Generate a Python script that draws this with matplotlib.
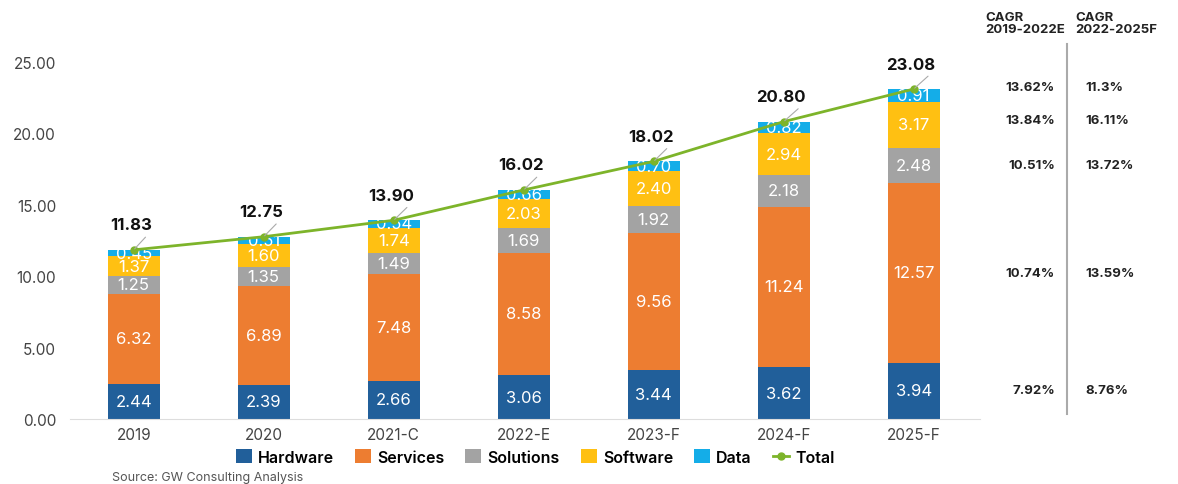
import numpy as np
import matplotlib
matplotlib.use("Agg")
import matplotlib.pyplot as plt

plt.rcParams["font.family"] = ["Inter", "DejaVu Sans"]

# ── Data ──────────────────────────────────────────────────────────────────────
years = ["2019", "2020", "2021-C", "2022-E", "2023-F", "2024-F", "2025-F"]
hardware  = [2.44, 2.39, 2.66, 3.06, 3.44, 3.62, 3.94]
services  = [6.32, 6.89, 7.48, 8.58, 9.56, 11.24, 12.57]
solutions = [1.25, 1.35, 1.49, 1.69, 1.92, 2.18, 2.48]
software  = [1.37, 1.60, 1.74, 2.03, 2.40, 2.94, 3.17]
data      = [0.45, 0.51, 0.54, 0.66, 0.70, 0.82, 0.91]
total     = [11.83, 12.75, 13.90, 16.02, 18.02, 20.80, 23.08]

cagr_19_22 = ["13.62%", "13.84%", "10.51%", "10.74%", "7.92%"]   # Data..Hardware
cagr_22_25 = ["11.3%", "16.11%", "13.72%", "13.59%", "8.76%"]
cagr_rows  = [23.2, 20.9, 17.8, 10.2, 2.0]                        # row heights (y units)

series = [
    ("Hardware", hardware, "#215f9a"),
    ("Services", services, "#ed7d31"),
    ("Solutions", solutions, "#a3a3a3"),
    ("Software", software, "#ffc012"),
    ("Data", data, "#14ade8"),
]
LINE_C = "#7db42a"

fig = plt.figure(figsize=(11.78, 4.85), dpi=100, facecolor="white")
ax = fig.add_axes([70 / 1178, 1 - 420 / 485, 910 / 1178, 386 / 485])

x = np.arange(len(years))
bottom = np.zeros(len(years))
handles = []
for name, vals, col in series:
    vals = np.array(vals)
    h = ax.bar(x, vals, 0.4, bottom=bottom, color=col, label=name, zorder=2)
    handles.append(h)
    for xi, b, v in zip(x, bottom, vals):
        ax.text(xi, b + v / 2, f"{v:.2f}", ha="center", va="center",
                color="white", fontsize=12, zorder=3)
    bottom += vals

ln, = ax.plot(x, total, color=LINE_C, lw=2, marker="o", ms=5, label="Total", zorder=4)
handles.append(ln)
for xi, t in zip(x, total):
    ax.annotate(f"{t:.2f}", xy=(xi, t), xytext=(xi - 0.02, t + 1.75),
                ha="center", va="center", fontsize=12, fontweight="bold",
                color="#111", zorder=5,
                arrowprops=dict(arrowstyle="-", color="#aaaaaa", lw=0.8,
                                shrinkA=2, shrinkB=1,
                                connectionstyle="arc3,rad=0",
                                relpos=(0.95, 0.0)))

ax.set_xlim(-0.49, 6.51)
ax.set_ylim(0, 27)
ax.set_yticks(np.arange(0, 26, 5))
ax.set_yticklabels([f"{v:.2f}" for v in np.arange(0, 26, 5)])
ax.set_xticks(x)
ax.set_xticklabels(years)
ax.tick_params(axis="both", length=0, labelsize=11, colors="#444444")
ax.tick_params(axis="y", pad=10)
ax.tick_params(axis="x", pad=6)
for s in ["top", "right", "left"]:
    ax.spines[s].set_visible(False)
ax.spines["bottom"].set_color("#dddddd")

# ── CAGR columns ─────────────────────────────────────────────────────────────
fig.text(985 / 1178, 1 - 24 / 485, "CAGR\n2019-2022E", ha="left", va="center",
         fontsize=9.5, fontweight="bold", color="#222", linespacing=1.0)
fig.text(1075 / 1178, 1 - 24 / 485, "CAGR\n2022-2025F", ha="left", va="center",
         fontsize=9.5, fontweight="bold", color="#222", linespacing=1.0)
for yv, a, b in zip(cagr_rows, cagr_19_22, cagr_22_25):
    yfig = 1 - (420 - yv * 14.29) / 485
    fig.text(1055 / 1178, yfig, a, ha="right", va="center", fontsize=9.5,
             fontweight="bold", color="#222")
    fig.text(1085 / 1178, yfig, b, ha="left", va="center", fontsize=9.5,
             fontweight="bold", color="#222")
fig.add_artist(plt.Line2D([1067 / 1178] * 2, [1 - 45 / 485, 1 - 415 / 485],
                          color="#aaaaaa", lw=1.5))

# ── Legend + source ──────────────────────────────────────────────────────────
fig.legend(handles=handles, loc="center", bbox_to_anchor=(535 / 1178, 1 - 458 / 485),
           ncol=6, frameon=False, handlelength=1.0, handleheight=1.0,
           handletextpad=0.4, columnspacing=1.3,
           prop={"weight": "semibold", "size": 11.5})
fig.text(112 / 1178, 1 - 478 / 485, "Source: GW Consulting Analysis",
         ha="left", va="center", fontsize=9, color="#555555")

fig.savefig("out.png", dpi=100, facecolor="white")
